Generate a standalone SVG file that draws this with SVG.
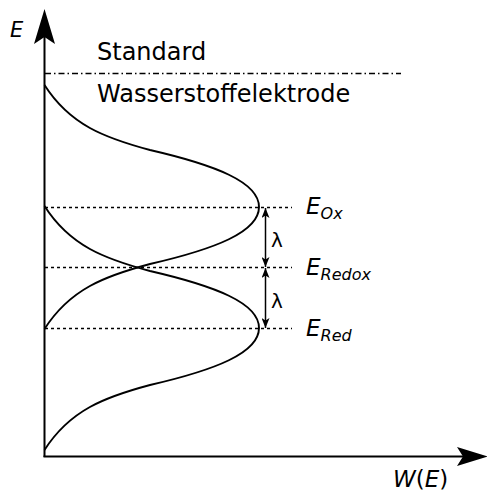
<svg xmlns="http://www.w3.org/2000/svg" width="487" height="491" viewBox="0 0 487 491">
<style>
text{font-family:"DejaVu Sans",Verdana,sans-serif;fill:#000}
.it{font-style:italic}
.ax{stroke:#000;stroke-width:2;fill:none}
.crv{stroke:#000;stroke-width:1.9;fill:none}
.dot{stroke:#000;stroke-width:1.5;stroke-dasharray:3,3;fill:none}
.dd{stroke:#000;stroke-width:1.5;stroke-dasharray:6,3,1.5,3;fill:none}
.lam{stroke:#000;stroke-width:1.5;fill:none;marker-start:url(#sa);marker-end:url(#sa)}
</style>
<defs>
<marker id="sa" viewBox="0 0 10 8" refX="10" refY="4" markerWidth="10" markerHeight="8" markerUnits="userSpaceOnUse" orient="auto-start-reverse">
<path d="M10,4 L0,0 L2.5,4 L0,8 Z" fill="#000"/>
</marker>
</defs>
<g id="axes">
<line class="ax" x1="44.5" y1="457" x2="44.5" y2="36"/>
<path d="M44.5,9 L55,44 L44.5,37 L34,44 Z" fill="#000"/>
<line class="ax" x1="43.5" y1="456.5" x2="463" y2="456.5"/>
<path d="M488,456.5 L457,466 L463,456.5 L457,447 Z" fill="#000"/>
<text id="label-E" class="it" x="10" y="37" font-size="21">E</text>
<text id="label-W" x="393" y="487" font-size="23"><tspan class="it">W</tspan>(<tspan class="it">E</tspan>)</text>
</g>
<g id="reference">
<line class="dd" x1="45" y1="73.5" x2="401" y2="73.5"/>
<text x="97" y="60" font-size="24">Standard</text>
<text x="97" y="102" font-size="24">Wasserstoffelektrode</text>
</g>
<g id="curves">
<path id="ox" class="crv" d="M44.5,85 C70,125 105,138 150,150 C215,165 259,182 259,207 C259,232 215,249 150,264 C105,276 70,289 44.5,329"/>
<path id="red" class="crv" transform="translate(0,121)" d="M44.5,85 C70,125 105,138 150,150 C215,165 259,182 259,207 C259,232 215,249 150,264 C105,276 70,289 44.5,329"/>
</g>
<g id="levels">
<line class="dot" x1="45" y1="207.5" x2="292" y2="207.5"/>
<line class="dot" x1="45" y1="267.5" x2="292" y2="267.5"/>
<line class="dot" x1="45" y1="328.5" x2="292" y2="328.5"/>
</g>
<g id="connectors">
<line class="lam" x1="265.5" y1="208" x2="265.5" y2="267"/>
<line class="lam" x1="265.5" y1="268" x2="265.5" y2="328"/>
</g>
<g id="labels">
<text x="271" y="247" font-size="20">λ</text>
<text x="271" y="308" font-size="20">λ</text>
<text class="it" x="306" y="214" font-size="23">E<tspan font-size="16" dy="5">Ox</tspan></text>
<text class="it" x="306" y="275" font-size="23">E<tspan font-size="16" dy="5">Redox</tspan></text>
<text class="it" x="306" y="336" font-size="23">E<tspan font-size="16" dy="5">Red</tspan></text>
</g>
</svg>
